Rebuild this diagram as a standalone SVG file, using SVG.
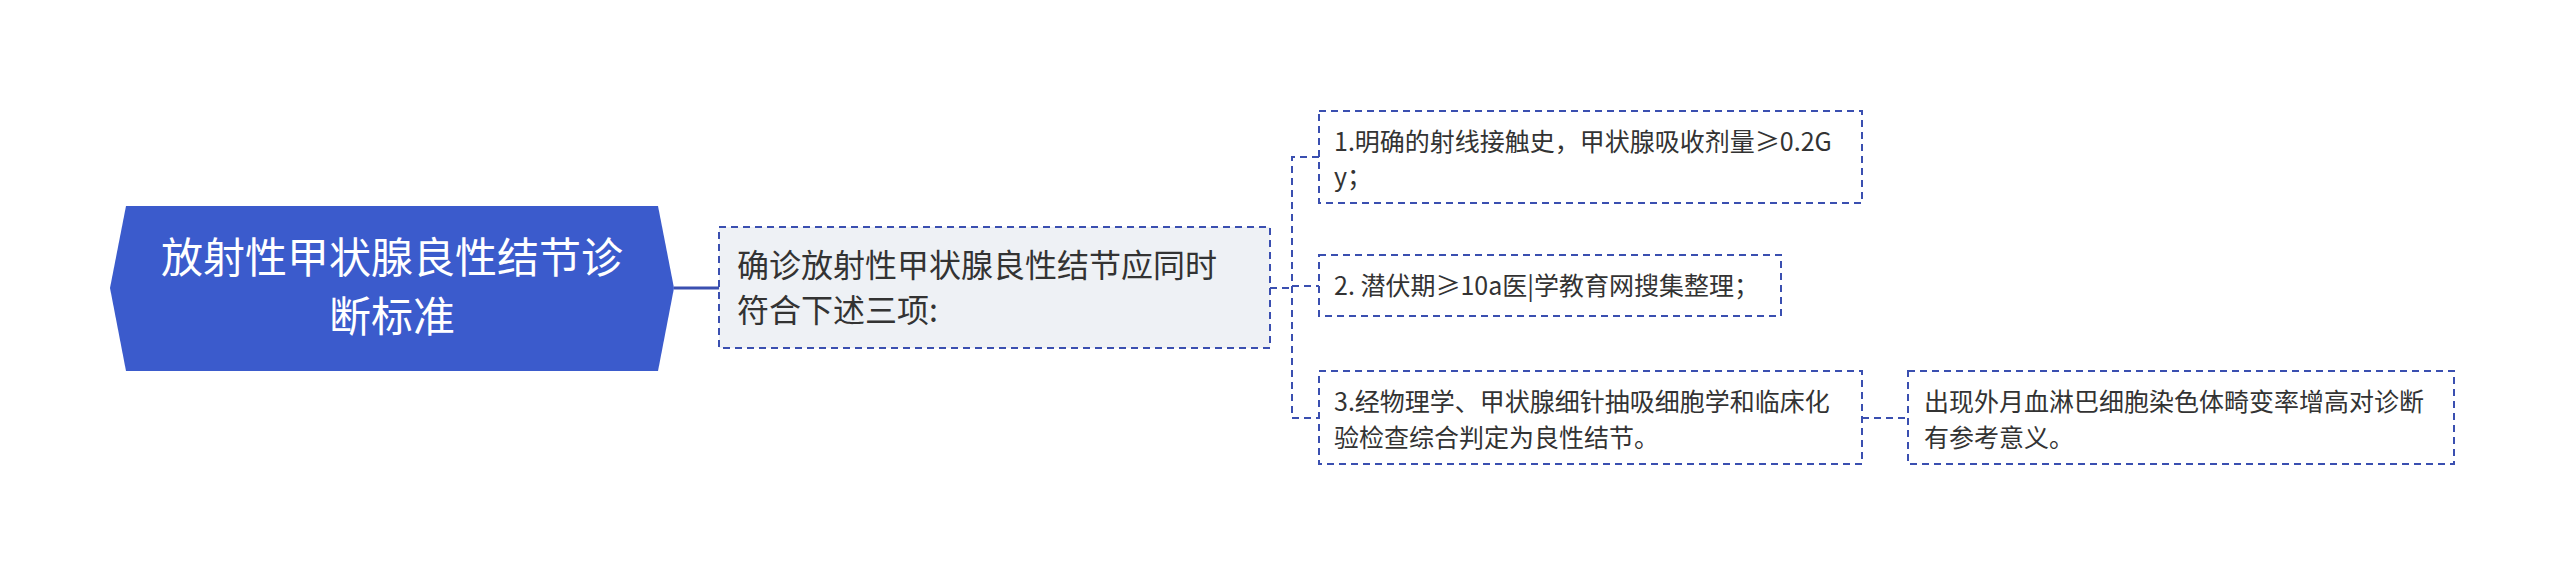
<svg xmlns="http://www.w3.org/2000/svg" width="2560" height="575" viewBox="0 0 2560 575">
<style>
text{font-family:"Noto Sans CJK SC","Noto Sans",sans-serif;fill:#333}
.root text{fill:#fff;font-size:42px}
.box{fill:#fff;stroke:#3a4fb0;stroke-width:2;stroke-dasharray:7 5}
.b1{fill:#eef1f5}
.n1 text{font-size:32px}
.c text{font-size:25px}
.conn{fill:none;stroke:#3a4fb0;stroke-width:2;stroke-dasharray:7 5}
</style>
<rect width="2560" height="575" fill="#fff"/>
<g id="connectors">
<path d="M674 288H719" class="conn" style="stroke-dasharray:none;stroke-width:3"/>
<path d="M1270 288H1292M1319 157H1292V418H1319M1292 286H1319M1862 418H1908" class="conn"/>
</g>
<g id="root" class="root">
<polygon points="126,206 658,206 674,288 658,371 126,371 110,288" fill="#3b5bcc"/>
<text x="392" y="273" text-anchor="middle">放射性甲状腺良性结节诊</text>
<text x="392" y="332" text-anchor="middle">断标准</text>
</g>
<g id="n1" class="n1">
<rect x="719" y="227" width="551" height="121" class="box b1"/>
<text x="737" y="277">确诊放射性甲状腺良性结节应同时</text>
<text x="737" y="322">符合下述三项:</text>
</g>
<g id="c1" class="c">
<rect x="1319" y="111" width="543" height="92" class="box"/>
<text x="1334" y="151">1.明确的射线接触史，甲状腺吸收剂量≥0.2G</text>
<text x="1334" y="186">y；</text>
</g>
<g id="c2" class="c">
<rect x="1319" y="255" width="462" height="61" class="box"/>
<text x="1334" y="295">2. 潜伏期≥10a医|学教育网搜集整理；</text>
</g>
<g id="c3" class="c">
<rect x="1319" y="371" width="543" height="93" class="box"/>
<text x="1334" y="411">3.经物理学、甲状腺细针抽吸细胞学和临床化</text>
<text x="1334" y="447">验检查综合判定为良性结节。</text>
</g>
<g id="c4" class="c">
<rect x="1908" y="371" width="546" height="93" class="box"/>
<text x="1924" y="411">出现外月血淋巴细胞染色体畸变率增高对诊断</text>
<text x="1924" y="447">有参考意义。</text>
</g>
</svg>
